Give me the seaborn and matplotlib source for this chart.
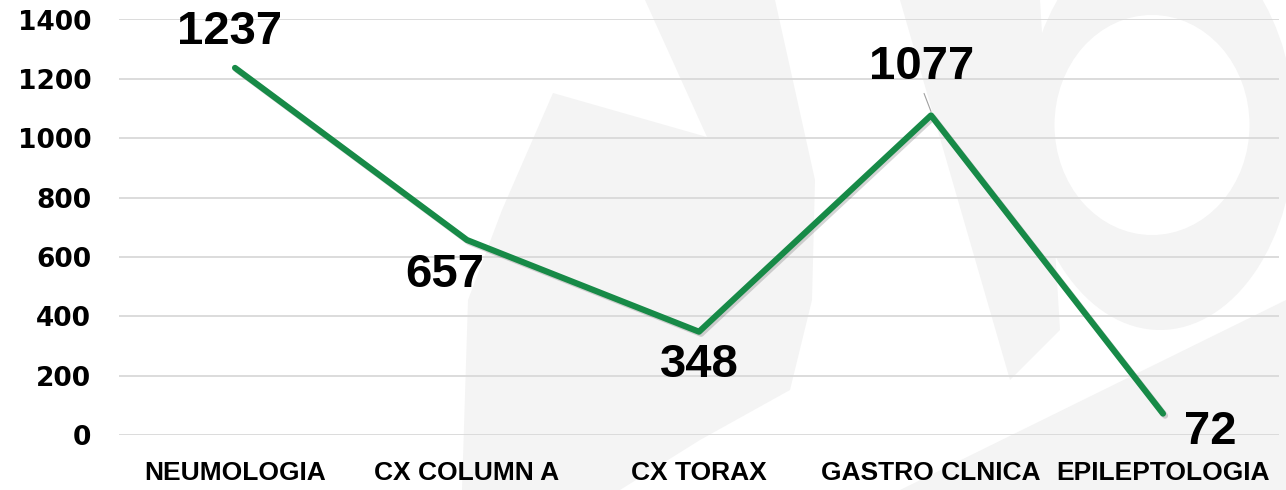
import numpy as np
import pandas as pd
import seaborn as sns
import matplotlib.pyplot as plt
import matplotlib.patheffects as pe
from matplotlib.patches import Polygon, Ellipse

# chart data
categories = ["NEUMOLOGIA", "CX COLUMN A", "CX TORAX", "GASTRO CLNICA", "EPILEPTOLOGIA"]
values = [1237, 657, 348, 1077, 72]
yticks = [0, 200, 400, 600, 800, 1000, 1200, 1400]

# label offsets in points (dx, dy) relative to each point
label_offsets = [(-4, 26), (-16, -25), (0, -24), (-6.5, 35), (34, -13)]

df = pd.DataFrame({"servicio": categories, "total": values})

sns.set_theme(style="white")
plt.rcParams["font.family"] = ["Liberation Sans", "DejaVu Sans"]
plt.rcParams["text.color"] = "black"

fig = plt.figure(figsize=(12.86, 4.9), dpi=100)
fig.patch.set_facecolor("white")

# faint watermark behind the chart (pixel coords)
bg = fig.add_axes([0, 0, 1, 1], zorder=-1)
bg.set_xlim(0, 1286)
bg.set_ylim(490, 0)
bg.axis("off")
wm = "#f4f4f4"
bg.add_patch(Polygon([[553, 93], [707, 137], [645, 0], [775, 0], [815, 180], [812, 300],
                      [790, 390], [700, 440], [620, 490], [462, 490], [468, 300], [502, 210]],
                     closed=True, color=wm, lw=0))
bg.add_patch(Polygon([[900, 0], [1040, 0], [1060, 330], [1010, 380]],
                     closed=True, color=wm, lw=0))
bg.add_patch(Ellipse((1160, 130), 270, 400, color=wm, lw=0))
bg.add_patch(Ellipse((1152, 125), 195, 220, color="white", lw=0))
bg.add_patch(Polygon([[900, 490], [1286, 300], [1286, 490]], closed=True, color=wm, lw=0))

ax = fig.add_axes([119 / 1286, 55 / 490, 1160 / 1286, 415.5 / 490], zorder=1)
ax.set_facecolor("none")

sns.lineplot(data=df, x="servicio", y="total", ax=ax, color="#178a47",
             linewidth=4.4, sort=False, zorder=3, solid_capstyle="round",
             path_effects=[pe.SimpleLineShadow(offset=(1.5, -1.5), alpha=0.18), pe.Normal()])

ax.set_xlim(-0.5, len(categories) - 0.5)
ax.set_ylim(0, 1400)
ax.set_yticks(yticks)
ax.yaxis.grid(True, color="#d9d9d9", linewidth=1.3)
ax.xaxis.grid(False)
for s in ax.spines.values():
    s.set_visible(False)

ax.set_xlabel("")
ax.set_ylabel("")
ax.tick_params(axis="y", labelsize=19, pad=20, length=0, labelcolor="black")
ax.tick_params(axis="x", labelsize=19, pad=19, length=0, labelcolor="black")
for t in ax.get_yticklabels():
    t.set_fontweight("bold")
    t.set_fontfamily(["DejaVu Sans"])
for t in ax.get_xticklabels():
    t.set_fontweight("bold")

for i, v in enumerate(values):
    dx, dy = label_offsets[i]
    ax.annotate(str(v), xy=(i, v), xytext=(dx, dy), textcoords="offset points",
                ha="center", va="center", fontsize=34, fontweight="bold",
                color="black", zorder=5)

# leader line for the 1077 label
ax.annotate("", xy=(3, 1090), xytext=(-5, 13), textcoords="offset points",
            arrowprops=dict(arrowstyle="-", color="#a0a0a0", lw=0.8, shrinkA=0, shrinkB=0))

fig.savefig("out.png", dpi=100)
